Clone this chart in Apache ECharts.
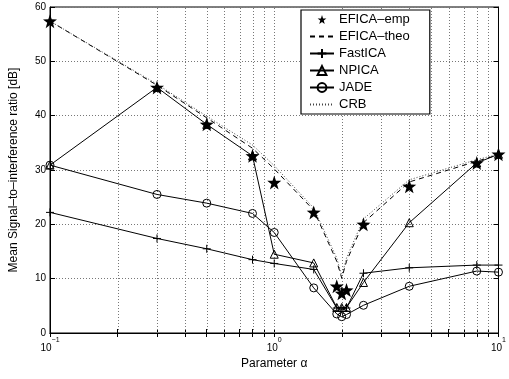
<!DOCTYPE html>
<html><head><meta charset="utf-8">
<script src="https://cdn.jsdelivr.net/npm/echarts@6/dist/echarts.min.js"></script>
<style>html,body{margin:0;padding:0;background:#fff}#c{width:509px;height:379px}</style>
</head><body><div id="c"></div>
<script>
const alphas = [0.1, 0.3, 0.5, 0.8, 1, 1.5, 1.9, 2, 2.1, 2.5, 4, 8, 10];
const eficaEmp = [57.4, 45.2, 38.4, 32.6, 27.7, 22.2, 8.6, 7.3, 7.9, 20.0, 27.0, 31.3, 32.9];
const eficaTheo = [57.4, 45.6, 39.6, 34.0, 30.2, 22.6, 13.2, 10.1, 13.2, 20.3, 27.8, 31.6, 32.8];
const fastica = [22.2, 17.4, 15.5, 13.5, 12.8, 11.7, 4.6, 4.4, 4.6, 11.0, 12.0, 12.5, 12.5];
const npica = [30.9, 45.2, 38.4, 32.6, 14.5, 12.9, 4.7, 4.7, 4.7, 9.3, 20.3, 31.3, 32.9];
const jade = [30.9, 25.5, 23.9, 22.0, 18.5, 8.3, 3.5, 3.0, 3.4, 5.1, 8.6, 11.4, 11.2];
const crb = [57.4, 45.8, 39.9, 34.6, 30.8, 23.0, 13.8, 10.5, 13.8, 21.0, 28.2, 31.9, 32.9];
const xTickVals = [0.1,0.2,0.3,0.4,0.5,0.6,0.7,0.8,0.9,1,2,3,4,5,6,7,8,9,10];
const xGridVals = [0.2,0.3,0.4,0.5,0.6,0.7,0.8,0.9,1,2,3,4,5,6,7,8,9];
const xLabelVals = [0.1, 1, 10];
const xLabelExp = {'0.1':'−1','1':'0','10':'1'};
const yTicks = [0,10,20,30,40,50,60];

const pair = a => alphas.map((x,i)=>[x,a[i]]);
const STAR = 'path://M0,-10L2.35,-3.24L9.51,-3.09L3.8,1.24L5.88,8.09L0,4L-5.88,8.09L-3.8,1.24L-9.51,-3.09L-2.35,-3.24Z';
const PLUS = 'path://M0,-5L0,5M-5,0L5,0';
const FONT = '"Liberation Sans", Arial, sans-serif';
const GRIDSTYLE = {color:'#777', type:[1,2], width:1};

const chart = echarts.init(document.getElementById('c'), null, {renderer:'canvas'});
chart.setOption({
  animation:false,
  backgroundColor:'#fff',
  textStyle:{fontFamily:FONT, color:'#000'},
  grid:{left:47, right:6, top:7, bottom:46, show:true, borderColor:'#000', borderWidth:1, containLabel:false},
  legend:{
    left:301, top:10, orient:'vertical', itemWidth:24, itemHeight:11, itemGap:4,
    padding:[3,20,3,8], backgroundColor:'#fff', borderColor:'#000', borderWidth:1.2,
    textStyle:{fontFamily:FONT, fontSize:13, color:'#000'},
    data:[
      {name:'EFICA–emp'},
      {name:'EFICA–theo', itemStyle:{opacity:0}},
      {name:'FastICA'},
      {name:'NPICA'},
      {name:'JADE'},
      {name:'CRB', itemStyle:{opacity:0}}
    ]
  },
  xAxis:[{
    type:'log', logBase:10, min:0.1, max:10,
    name:'Parameter α', nameLocation:'middle', nameGap:21,
    nameTextStyle:{fontFamily:FONT, fontSize:12, color:'#000', verticalAlign:'top'},
    axisLine:{show:true, lineStyle:{color:'#000', width:1}},
    axisTick:{show:true, inside:true, length:4, customValues:xTickVals, lineStyle:{color:'#000'}},
    splitLine:{show:false},
    axisLabel:{show:true, customValues:xLabelVals, margin:4,
      formatter:v=>'{b|10}{s|'+xLabelExp[String(v)]+'}',
      rich:{b:{fontFamily:FONT, fontSize:10, color:'#000', padding:[6,0,0,0]}, s:{fontFamily:FONT, fontSize:7, color:'#000', verticalAlign:'top'}}}
  },{
    type:'log', logBase:10, min:0.1, max:10, position:'top',
    axisLine:{show:true, lineStyle:{color:'#000'}},
    axisTick:{show:true, inside:true, length:4, customValues:xTickVals, lineStyle:{color:'#000'}},
    axisLabel:{show:false}, splitLine:{show:false}
  }],
  yAxis:[{
    type:'value', min:0, max:60, interval:10,
    name:'Mean Signal–to–interference ratio [dB]', nameLocation:'middle', nameGap:30,
    nameTextStyle:{fontFamily:FONT, fontSize:12, color:'#000'},
    axisLine:{show:true, lineStyle:{color:'#000'}},
    axisTick:{show:true, inside:true, length:5, lineStyle:{color:'#000'}},
    splitLine:{show:true, lineStyle:GRIDSTYLE},
    axisLabel:{fontFamily:FONT, fontSize:10, color:'#000', margin:4, customValues:yTicks}
  },{
    type:'value', min:0, max:60, interval:10, position:'right',
    axisLine:{show:true, lineStyle:{color:'#000'}},
    axisTick:{show:true, inside:true, length:5, lineStyle:{color:'#000'}},
    axisLabel:{show:false}, splitLine:{show:false}
  }],
  series:[
    {name:'grid', type:'custom', silent:true, z:1, clip:false,
     data:xGridVals.map(v=>[v, 0]),
     encode:{x:0, y:1},
     renderItem:(params, api)=>{
       const x = api.value(0);
       const p0 = api.coord([x, 0]);
       const p1 = api.coord([x, 60]);
       const px = Math.round(p0[0]) + 0.5;
       return {type:'line', shape:{x1:px, y1:p0[1], x2:px, y2:p1[1]},
               style:{stroke:'#777', lineWidth:1, lineDash:[1,2], fill:null}};
     }},
    {name:'EFICA–emp', type:'line', data:pair(eficaEmp), symbol:STAR, symbolSize:14,
     lineStyle:{width:0, opacity:0}, itemStyle:{color:'#000'}, z:5},
    {name:'EFICA–theo', type:'line', data:pair(eficaTheo), symbol:'none',
     lineStyle:{color:'#000', width:1, type:[5,4]}, itemStyle:{color:'#000'}},
    {name:'FastICA', type:'line', data:pair(fastica), symbol:PLUS, symbolSize:8,
     lineStyle:{color:'#000', width:1}, itemStyle:{color:'#000', borderColor:'#000', borderWidth:1}},
    {name:'NPICA', type:'line', data:pair(npica), symbol:'triangle', symbolSize:8,
     lineStyle:{color:'#000', width:1}, itemStyle:{color:'rgba(255,255,255,0)', borderColor:'#000', borderWidth:1}},
    {name:'JADE', type:'line', data:pair(jade), symbol:'circle', symbolSize:8,
     lineStyle:{color:'#000', width:1}, itemStyle:{color:'rgba(255,255,255,0)', borderColor:'#000', borderWidth:1}},
    {name:'CRB', type:'line', data:pair(crb), symbol:'none',
     lineStyle:{color:'#444', width:1, type:[1,2]}, itemStyle:{color:'#444'}}
  ]
});
</script></body></html>
